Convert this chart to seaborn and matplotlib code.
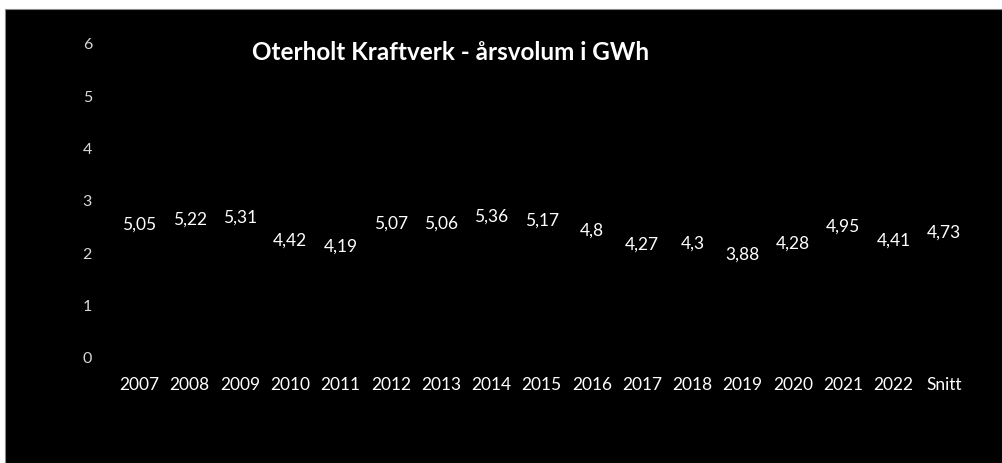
import matplotlib
matplotlib.use('Agg')
import matplotlib.pyplot as plt
import seaborn as sns
from matplotlib.patches import Rectangle

# data
categories = ['2007', '2008', '2009', '2010', '2011', '2012', '2013', '2014',
              '2015', '2016', '2017', '2018', '2019', '2020', '2021', '2022', 'Snitt']
values = [5.05, 5.22, 5.31, 4.42, 4.19, 5.07, 5.06, 5.36,
          5.17, 4.8, 4.27, 4.3, 3.88, 4.28, 4.95, 4.41, 4.73]
axis_ticks = [0, 1, 2, 3, 4, 5, 6]
title = 'Oterholt Kraftverk - årsvolum i GWh'

sns.set_style('dark')
plt.rcParams['font.family'] = ['Lato', 'DejaVu Sans']

fig = plt.figure(figsize=(10.02, 4.63), dpi=100)
fig.patch.set_facecolor('white')
fig.patches.append(Rectangle((5 / 1002, 0), 1, 1 - 9 / 463, transform=fig.transFigure,
                             facecolor='black', edgecolor='#888888', lw=0.8, zorder=-5))

ax = fig.add_axes([0.114, 0.227, 0.853, 0.678])
ax.set_facecolor('black')

# bars are black on black, only the labels show
sns.barplot(x=categories, y=values, color='black', ax=ax, width=0.6,
            edgecolor='black', linewidth=0)
ax.set_ylim(0, 12.2)
ax.set_xlim(-0.5, len(categories) - 0.5)
labels = [str(v).replace('.', ',') for v in values]
ax.bar_label(ax.containers[0], labels=labels, padding=-3, color='white', fontsize=12.5)
ax.set_yticks([])
ax.set_xlabel('')
ax.set_ylabel('')
ax.tick_params(axis='x', colors='white', labelsize=12.5, length=0, pad=14)

# visible 0-6 scale on the left
ax2 = ax.twinx()
ax2.set_ylim(0, 6)
ax2.set_yticks(axis_ticks)
ax2.yaxis.set_ticks_position('left')
ax2.yaxis.set_label_position('left')
ax2.tick_params(axis='y', colors='#d9d9d9', labelsize=11.5, length=0, pad=16)
ax2.grid(False)
ax.grid(False)

for a in (ax, ax2):
    for s in a.spines.values():
        s.set_visible(False)

fig.text(451 / 1002, 1 - 52 / 463, title, color='white', fontsize=17.5,
         fontweight='bold', ha='center', va='center')

plt.savefig('out.png', dpi=100, facecolor=fig.get_facecolor())
